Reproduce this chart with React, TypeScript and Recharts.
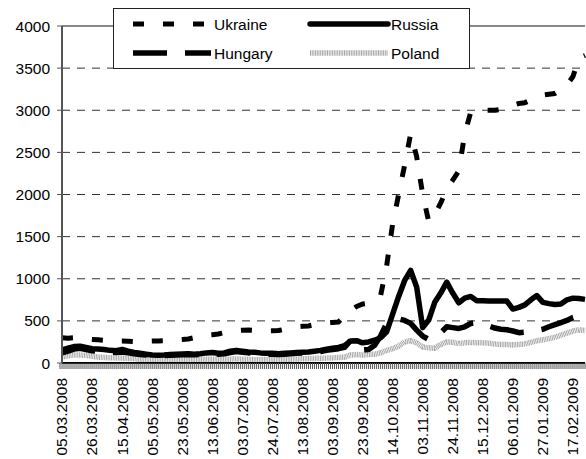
import { LineChart, Line, XAxis, YAxis, CartesianGrid, ReferenceLine } from "recharts";

const FONT = '"Liberation Sans", Arial, sans-serif';

// one point every 3 business days
const dates = [
  "05.03.2008", "10.03.2008", "13.03.2008", "18.03.2008", "21.03.2008",
  "26.03.2008", "31.03.2008", "03.04.2008", "08.04.2008", "11.04.2008",
  "15.04.2008", "18.04.2008", "23.04.2008", "28.04.2008", "30.04.2008",
  "05.05.2008", "08.05.2008", "13.05.2008", "16.05.2008", "20.05.2008",
  "23.05.2008", "28.05.2008", "02.06.2008", "05.06.2008", "10.06.2008",
  "13.06.2008", "18.06.2008", "23.06.2008", "26.06.2008", "01.07.2008",
  "03.07.2008", "08.07.2008", "11.07.2008", "16.07.2008", "21.07.2008",
  "24.07.2008", "29.07.2008", "01.08.2008", "06.08.2008", "08.08.2008",
  "13.08.2008", "18.08.2008", "21.08.2008", "26.08.2008", "29.08.2008",
  "03.09.2008", "08.09.2008", "11.09.2008", "16.09.2008", "19.09.2008",
  "23.09.2008", "26.09.2008", "01.10.2008", "06.10.2008", "09.10.2008",
  "14.10.2008", "17.10.2008", "22.10.2008", "27.10.2008", "30.10.2008",
  "03.11.2008", "06.11.2008", "11.11.2008", "14.11.2008", "19.11.2008",
  "24.11.2008", "27.11.2008", "02.12.2008", "05.12.2008", "10.12.2008",
  "15.12.2008", "18.12.2008", "23.12.2008", "26.12.2008", "31.12.2008",
  "06.01.2009", "09.01.2009", "14.01.2009", "19.01.2009", "22.01.2009",
  "27.01.2009", "30.01.2009", "04.02.2009", "09.02.2009", "12.02.2009",
  "17.02.2009", "20.02.2009", "25.02.2009",
];

const tickLabels = [
  "05.03.2008", "26.03.2008", "15.04.2008", "05.05.2008", "23.05.2008",
  "13.06.2008", "03.07.2008", "24.07.2008", "13.08.2008", "03.09.2008",
  "23.09.2008", "14.10.2008", "03.11.2008", "24.11.2008", "15.12.2008",
  "06.01.2009", "27.01.2009", "17.02.2009",
];

const ukraine = [
  300, 295, 300, 290, 285, 280, 275, 270, 265, 260,
  260, 258, 255, 258, 260, 262, 262, 265, 270, 275,
  280, 285, 300, 315, 330, 335, 345, 360, 375, 385,
  390, 392, 388, 385, 383, 383, 385, 400, 420, 430,
  435, 440, 455, 470, 478, 482, 488, 560, 620, 670,
  700, 710, 730, 800, 1150, 1650, 2000, 2350, 2720, 2450,
  2000, 1680, 1760, 1900, 2065, 2170, 2280, 2720, 2980, 3000,
  3000, 3000, 3000, 3010, 3030, 3060, 3080, 3090, 3120, 3160,
  3180, 3190, 3200, 3250, 3300, 3400, 3620, 3650,
];

const russia = [
  155, 175, 195, 200, 185, 170, 165, 160, 150, 145,
  160, 140, 125, 115, 105, 95, 92, 95, 100, 105,
  108, 110, 105, 110, 120, 125, 115, 120, 140, 150,
  140, 130, 128, 120, 115, 115, 110, 115, 120, 125,
  128, 130, 140, 150, 165, 175, 185, 205, 260, 265,
  240, 250, 270, 300, 370, 580, 790, 980, 1100, 900,
  420, 510, 720, 830, 960, 830, 715, 770, 790, 740,
  740, 735, 735, 735, 735, 640, 660, 690, 750, 800,
  720, 705, 695, 700, 750, 770, 765, 755,
];

const hungary = [
  120, 140, 165, 175, 160, 145, 140, 135, 130, 125,
  130, 120, 110, 100, 95, 88, 85, 88, 92, 95,
  98, 100, 98, 100, 105, 110, 105, 110, 125, 135,
  128, 120, 115, 110, 105, 105, 100, 105, 110, 115,
  118, 120, 128, 135, 150, 160, 170, 185, 270, 170,
  155, 160, 210, 320, 470, 515, 525, 505, 470, 390,
  320, 280, 290, 360, 430, 420, 410, 430, 470, 480,
  470, 440, 415, 400, 395, 380, 360, 365, 370, 385,
  400, 430, 455, 480, 505, 540, 560, 550,
];

const poland = [
  75, 85, 95, 95, 90, 80, 70, 65, 62, 60,
  58, 55, 52, 45, 38, 35, 35, 35, 38, 40,
  40, 42, 42, 42, 45, 45, 42, 45, 45, 50,
  45, 42, 40, 40, 40, 40, 42, 42, 45, 48,
  50, 52, 55, 55, 58, 60, 65, 70, 95, 100,
  95, 100, 105, 120, 150, 170, 200, 250, 265, 240,
  190, 180, 175, 220, 250, 245, 230, 240, 245, 240,
  240, 235, 225, 220, 220, 215, 220, 225, 245, 265,
  275, 290, 305, 330, 355, 380, 395, 385,
];

const yTicks = [0, 500, 1000, 1500, 2000, 2500, 3000, 3500, 4000];

const data = dates.map((date, i) => ({
  date,
  Ukraine: ukraine[i],
  Russia: russia[i],
  Hungary: hungary[i],
  Poland: poland[i],
}));

const series = [
  { key: "Poland", color: "#a6a6a6", width: 5.5, dash: "1 0.7" },
  { key: "Hungary", color: "#000", width: 5.5, dash: "34 18" },
  { key: "Russia", color: "#000", width: 5.5, dash: undefined },
  { key: "Ukraine", color: "#000", width: 5, dash: "11 19" },
];

function DateTick(props: any) {
  const { x, y, payload } = props;
  return (
    <g>
      {[-2, 0, 2].map((d) => (
        <line key={d} x1={x + d} x2={x + d} y1={y} y2={y + 6} stroke="#555" strokeWidth={1} />
      ))}
      {tickLabels.includes(payload.value) && (
        <text
          transform={`translate(${x},${y + 15}) rotate(-90)`}
          textAnchor="end"
          dy="0.35em"
          fontSize={15.5}
          fontFamily={FONT}
          fill="#000"
        >
          {payload.value}
        </text>
      )}
    </g>
  );
}

function LegendBox() {
  const rows = [
    { key: "Ukraine", col: 0, row: 0 },
    { key: "Russia", col: 1, row: 0 },
    { key: "Hungary", col: 0, row: 1 },
    { key: "Poland", col: 1, row: 1 },
  ];
  return (
    <div
      style={{
        position: "absolute",
        left: 113,
        top: 8,
        width: 357,
        height: 61,
        boxSizing: "border-box",
        border: "1px solid #222",
        background: "#fff",
      }}
    >
      <svg width={355} height={59}>
        {rows.map((r) => {
          const s = series.find((e) => e.key === r.key)!;
          const x0 = r.col === 0 ? 19 : 196;
          const y0 = r.row === 0 ? 15 : 44;
          return (
            <g key={r.key}>
              <line
                x1={x0}
                x2={x0 + 78}
                y1={y0}
                y2={y0}
                stroke={s.color}
                strokeWidth={s.width}
                strokeDasharray={s.dash}
                strokeLinecap={r.key === "Russia" ? "round" : "butt"}
              />
              <text x={x0 + 81} y={y0} dy="0.36em" fontSize={15.5} fontFamily={FONT} fill="#000">
                {r.key}
              </text>
            </g>
          );
        })}
      </svg>
    </div>
  );
}

export default function App() {
  return (
    <div style={{ position: "absolute", left: 0, top: 0, width: 586, height: 459, overflow: "hidden", background: "#fff" }}>
      <LineChart width={586} height={459} data={data} margin={{ top: 26, right: 1, left: 0, bottom: 6 }}>
        <CartesianGrid vertical={false} stroke="#333" strokeDasharray="8 7" />
        <XAxis
          dataKey="date"
          interval={0}
          height={90}
          tickLine={false}
          tickSize={0}
          tickMargin={0}
          tick={<DateTick />}
          axisLine={{ stroke: "#000", strokeWidth: 2 }}
        />
        <YAxis
          domain={[0, 4000]}
          ticks={yTicks}
          interval={0}
          width={62}
          tickSize={5}
          tickMargin={7}
          tick={{ fontSize: 15.5, fontFamily: FONT, fill: "#000" }}
          tickLine={{ stroke: "#555" }}
          axisLine={{ stroke: "#555", strokeWidth: 2 }}
        />
        <ReferenceLine y={4000} stroke="#888" strokeWidth={2} />
        {series.map((s) => (
          <Line
            key={s.key}
            type="linear"
            dataKey={s.key}
            stroke={s.color}
            strokeWidth={s.width}
            strokeDasharray={s.dash}
            strokeLinejoin="round"
            dot={false}
            activeDot={false}
            isAnimationActive={false}
          />
        ))}
      </LineChart>
      <LegendBox />
    </div>
  );
}
